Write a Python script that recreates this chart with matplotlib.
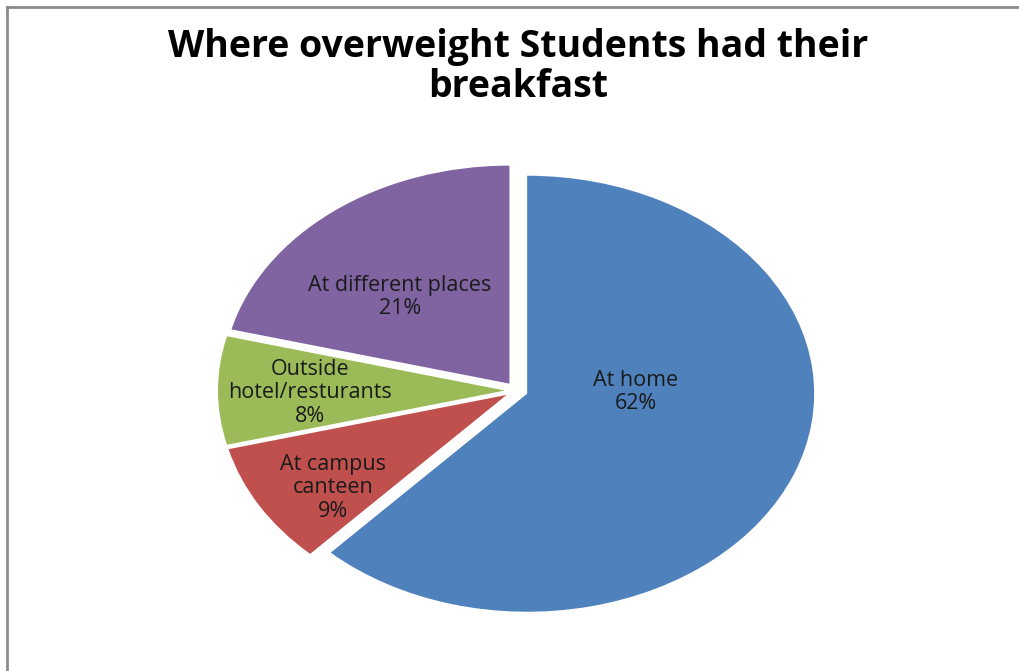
import matplotlib.pyplot as plt
from matplotlib.lines import Line2D

labels = ['At home', 'At campus\ncanteen', 'Outside\nhotel/resturants', 'At different places']
shares = [62, 9, 8, 21]
colors = ['#4F81BD', '#C0504D', '#9BBB59', '#8064A2']

# where each label sits, in pie units (x, y)
label_pos = [(0.416, -0.007), (-0.64, -0.447), (-0.719, -0.011), (-0.406, 0.429)]

fig = plt.figure(figsize=(10.19, 6.71), dpi=100)
fig.patch.set_facecolor('white')

# chart frame: only top and left edges show
fig.add_artist(Line2D([7 / 1019, 7 / 1019], [0, 1 - 7 / 671], color='#8c8c8c', lw=2))
fig.add_artist(Line2D([7 / 1019, 1], [1 - 7 / 671, 1 - 7 / 671], color='#8c8c8c', lw=2))

fig.text(0.508, 0.9, 'Where overweight Students had their\nbreakfast',
         ha='center', va='center', fontsize=27, fontweight='bold',
         family='Open Sans', linespacing=1.06, color='black')

ax = fig.add_axes([0.1548, 0.0119, 0.7041, 0.8122])
wedges, _ = ax.pie(shares, colors=colors, startangle=90, counterclock=False,
                   explode=[0.04] * len(shares),
                   wedgeprops=dict(linewidth=0))
ax.set_aspect('auto')
ax.set_xlim(-1.25, 1.25)
ax.set_ylim(-1.25, 1.25)
ax.axis('off')

for lab, val, (x, y) in zip(labels, shares, label_pos):
    ax.text(x, y, f'{lab}\n{val}%', ha='center', va='center', fontsize=15.5,
            family='Open Sans', color='#1a1a1a', linespacing=1.15)

fig.savefig('out.png', dpi=100)
